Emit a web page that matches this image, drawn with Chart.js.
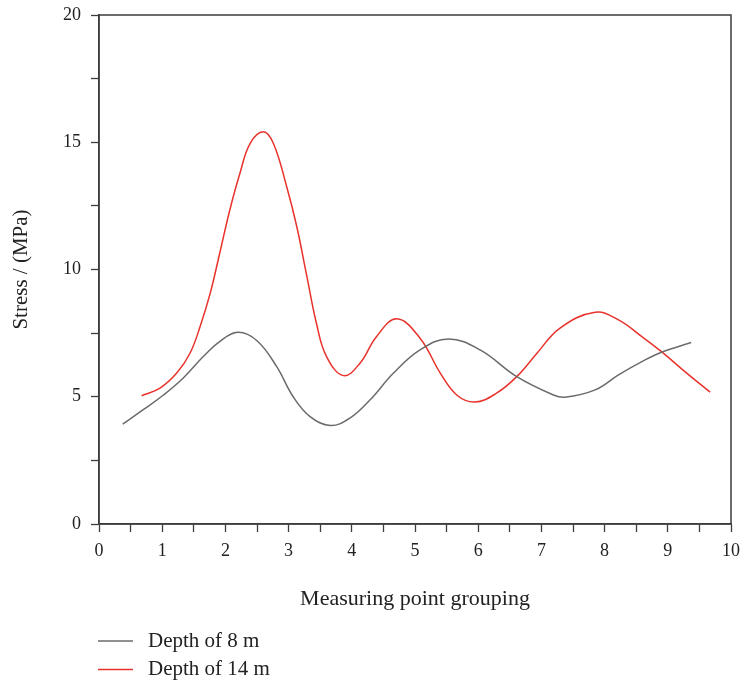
<!DOCTYPE html>
<html>
<head>
<meta charset="utf-8">
<script src="https://cdn.jsdelivr.net/npm/chart.js@4/dist/chart.umd.min.js"></script>
<style>
  html, body { margin: 0; padding: 0; background: #fff; }
  canvas { display: block; }
</style>
</head>
<body>
<canvas id="stressChart" width="741" height="684"></canvas>
<script>
// Values
const depth8X  = [0.375, 0.70, 1.02, 1.33, 1.65, 1.91, 2.2, 2.5, 2.81, 3.07, 3.34, 3.66, 3.97, 4.29, 4.66, 5.08, 5.53, 6.03, 6.61, 7.19, 7.37, 7.85, 8.22, 8.59, 8.9, 9.37];
const depth8Y  = [3.92, 4.49, 5.07, 5.73, 6.58, 7.17, 7.53, 7.2, 6.19, 5.01, 4.22, 3.87, 4.16, 4.88, 5.93, 6.84, 7.27, 6.84, 5.79, 5.07, 4.98, 5.27, 5.86, 6.38, 6.75, 7.13];
const depth14X = [0.675, 0.965, 1.23, 1.44, 1.6, 1.76, 1.91, 2.07, 2.23, 2.39, 2.6, 2.76, 2.97, 3.13, 3.29, 3.44, 3.6, 3.87, 4.13, 4.39, 4.71, 5.08, 5.4, 5.66, 5.95, 6.29, 6.61, 6.93, 7.29, 7.85, 8.22, 8.59, 8.9, 9.27, 9.67];
const depth14Y = [5.04, 5.34, 5.93, 6.71, 7.76, 9.07, 10.64, 12.34, 13.78, 14.95, 15.41, 14.95, 13.25, 11.68, 9.72, 7.89, 6.58, 5.83, 6.32, 7.36, 8.06, 7.3, 5.93, 5.07, 4.79, 5.14, 5.79, 6.71, 7.69, 8.32, 8.02, 7.36, 6.77, 5.99, 5.18];
const seriesLabels = ['Depth of 8 m', 'Depth of 14 m'];
const seriesColors = ['#6b6b6b', '#e8322c'];

const FONT = '"Liberation Serif", "DejaVu Serif", serif';
const AXIS_COLOR = '#3d3d3d';

function toPoints(xs, ys) {
    return xs.map((x, i) => ({ x: x, y: ys[i] }));
}

// box frame around the plot area
const framePlugin = {
    id: 'frame',
    afterDraw(chart) {
        const { ctx, chartArea } = chart;
        ctx.save();
        ctx.strokeStyle = AXIS_COLOR;
        ctx.lineWidth = 1.5;
        ctx.strokeRect(chartArea.left, chartArea.top, chartArea.right - chartArea.left, chartArea.bottom - chartArea.top);
        ctx.restore();
    }
};

// stacked legend under the axis title
const stackedLegend = {
    id: 'stackedLegend',
    afterDraw(chart) {
        const ctx = chart.ctx;
        ctx.save();
        ctx.font = '21px ' + FONT;
        ctx.textBaseline = 'middle';
        chart.data.datasets.forEach((ds, i) => {
            const y = 641 + i * 28.5;
            ctx.strokeStyle = ds.borderColor;
            ctx.lineWidth = 1.3;
            ctx.beginPath();
            ctx.moveTo(98, y);
            ctx.lineTo(133, y);
            ctx.stroke();
            ctx.fillStyle = '#222';
            ctx.fillText(ds.label, 148, y);
        });
        ctx.restore();
    }
};

new Chart(document.getElementById('stressChart'), {
    type: 'line',
    data: {
        datasets: [{
            label: seriesLabels[0],
            data: toPoints(depth8X, depth8Y),
            borderColor: seriesColors[0],
            borderWidth: 1.5,
            pointRadius: 0,
            tension: 0.4,
            fill: false
        }, {
            label: seriesLabels[1],
            data: toPoints(depth14X, depth14Y),
            borderColor: seriesColors[1],
            borderWidth: 1.5,
            pointRadius: 0,
            tension: 0.4,
            fill: false
        }]
    },
    options: {
        responsive: false,
        animation: false,
        layout: {
            padding: { left: 0, right: 10, top: 15, bottom: 60 }
        },
        plugins: {
            legend: { display: false },
            tooltip: { enabled: false }
        },
        scales: {
            x: {
                type: 'linear',
                min: 0,
                max: 10,
                afterFit: scale => {
                    scale.height = 100;
                    scale.paddingLeft = 0;
                    scale.paddingRight = 0;
                },
                ticks: {
                    stepSize: 0.5,
                    autoSkip: false,
                    maxRotation: 0,
                    padding: 8,
                    color: '#222',
                    font: { family: FONT, size: 18 },
                    callback: v => Number.isInteger(v) ? v : ''
                },
                grid: {
                    drawOnChartArea: false,
                    tickLength: 8,
                    tickColor: AXIS_COLOR,
                    tickWidth: 1.3
                },
                border: { color: AXIS_COLOR, width: 1.5 },
                title: {
                    display: true,
                    text: 'Measuring point grouping',
                    color: '#222',
                    font: { family: FONT, size: 22 },
                    padding: { bottom: 12 }
                }
            },
            y: {
                min: 0,
                max: 20,
                afterFit: scale => {
                    scale.width = 99;
                    scale.paddingTop = 0;
                    scale.paddingBottom = 0;
                },
                ticks: {
                    stepSize: 2.5,
                    autoSkip: false,
                    padding: 10,
                    color: '#222',
                    font: { family: FONT, size: 18 },
                    callback: v => v % 5 === 0 ? v : ''
                },
                grid: {
                    drawOnChartArea: false,
                    tickLength: 8,
                    tickColor: AXIS_COLOR,
                    tickWidth: 1.3
                },
                border: { color: AXIS_COLOR, width: 1.5 },
                title: {
                    display: true,
                    text: 'Stress / (MPa)',
                    color: '#222',
                    font: { family: FONT, size: 21 },
                    padding: { top: 9 }
                }
            }
        }
    },
    plugins: [framePlugin, stackedLegend]
});
</script>
</body>
</html>
